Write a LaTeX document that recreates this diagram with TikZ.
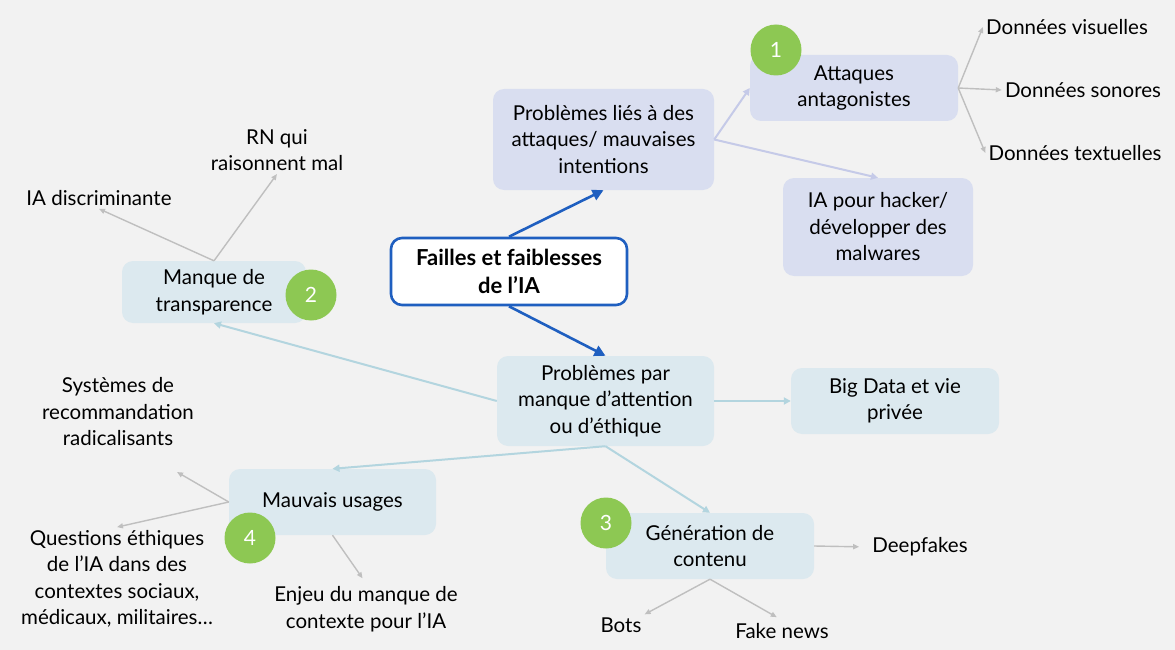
\documentclass[tikz,border=0pt]{standalone}
\usepackage{fontspec}
\setmainfont{Lato}
\usetikzlibrary{arrows.meta}
\definecolor{bg}{HTML}{F2F2F2}
\definecolor{lav}{HTML}{D9DEF0}
\definecolor{lblue}{HTML}{DCE9EF}
\definecolor{lavline}{HTML}{C5CAE8}
\definecolor{bline}{HTML}{B3D5DF}
\definecolor{gline}{HTML}{BFBFBF}
\definecolor{dblue}{HTML}{1F5FC0}
\definecolor{green}{HTML}{8DC853}
\tikzset{
  every node/.style={font=\fontsize{20.5}{26.5}\selectfont, align=center, text=black},
  lavbox/.style={fill=lav, rounded corners=11, inner sep=0},
  bluebox/.style={fill=lblue, rounded corners=11, inner sep=0},
  mainbox/.style={draw=dblue, line width=2.6, fill=white, rounded corners=11, inner sep=0, font=\fontsize{22}{28}\selectfont\bfseries},
  num/.style={circle, fill=green, minimum size=51, inner sep=0, text=white, font=\fontsize{21}{24}\selectfont},
  leaf/.style={inner sep=3},
  bigarrow/.style={draw=dblue, line width=2.6, -{Triangle[length=11,width=11]}},
  lavarrow/.style={draw=lavline, line width=2, -{Triangle[length=7,width=7]}},
  bluearrow/.style={draw=bline, line width=2, -{Triangle[length=7,width=7]}},
  grayarrow/.style={draw=gline, line width=1.4, -{Triangle[length=6,width=5]}}
}
\begin{document}
\begin{tikzpicture}[x=1pt,y=-1pt]
\fill[bg] (0,0) rectangle (1175,650);
\useasboundingbox (0,0) rectangle (1175,650);

% boxes
\node[mainbox, minimum width=236, minimum height=67] (c) at (509,271.5) {Failles et faiblesses\\de l’IA};
\node[lavbox, minimum width=221, minimum height=101] (pl) at (603.5,139.5) {Problèmes liés à des\\attaques/ mauvaises\\intentions};
\node[lavbox, minimum width=208, minimum height=66] (att) at (854,88) {Attaques\\antagonistes};
\node[lavbox, minimum width=190, minimum height=98] (hk) at (878,227) {IA pour hacker/\\développer des\\malwares};
\node[bluebox, minimum width=184, minimum height=62] (mt) at (214,292) {Manque de\\transparence};
\node[bluebox, minimum width=217, minimum height=90] (pp) at (605.5,401) {Problèmes par\\manque d’attention\\ou d’éthique};
\node[bluebox, minimum width=208, minimum height=66] (bd) at (895,401) {Big Data et vie\\privée};
\node[bluebox, minimum width=207, minimum height=66] (mu) at (332.5,502) {Mauvais usages};
\node[bluebox, minimum width=208, minimum height=66] (gen) at (710,546) {Génération de\\contenu};

% numbers
\node[num] (n1) at (776,50) {1};
\node[num] (n2) at (311,295) {2};
\node[num] (n3) at (606,523) {3};
\node[num] (n4) at (250,538) {4};

% leaves
\node[leaf] (dv) at (1067,27) {Données visuelles};
\node[leaf] (ds) at (1083,90) {Données sonores};
\node[leaf] (dt) at (1075,153) {Données textuelles};
\node[leaf] (rn) at (277,150) {RN qui\\raisonnent mal};
\node[leaf] (id) at (99,198) {IA discriminante};
\node[leaf] (sys) at (118,412) {Systèmes de\\recommandation\\radicalisants};
\node[leaf] (q) at (117,579) {Questions éthiques\\de l’IA dans des\\contextes sociaux,\\médicaux, militaires…};
\node[leaf] (enj) at (366,609) {Enjeu du manque de\\contexte pour l’IA};
\node[leaf] (df) at (920,547) {Deepfakes};
\node[leaf] (bots) at (621,625) {Bots};
\node[leaf] (fn) at (782,631) {Fake news};
\coordinate (sysend) at (177,472);

% connectors
\draw[bigarrow] (c.north) -- (pl.south);
\draw[bigarrow] (c.south) -- (pp.north);
\draw[lavarrow] (pl.east) -- (att.west);
\draw[lavarrow] (pl.east) -- (hk.north);
\draw[grayarrow] (att.east) -- (dv.west);
\draw[grayarrow] (att.east) -- (ds.west);
\draw[grayarrow] (att.east) -- (dt.west);
\draw[bluearrow] (pp.west) -- (mt.south);
\draw[bluearrow] (pp.south) -- (mu.north);
\draw[bluearrow] (pp.south) -- (gen.north);
\draw[bluearrow] (pp.east) -- (bd.west);
\draw[grayarrow] (mt.north) -- (id.south);
\draw[grayarrow] (mt.north) -- (rn.south);
\draw[grayarrow] (mu.west) -- (sysend);
\draw[grayarrow] (mu.west) -- (q.north);
\draw[grayarrow, shorten >=6] (mu.south) -- (enj.north);
\draw[grayarrow, shorten >=10] (gen.east) -- (df.west);
\draw[grayarrow] (gen.south) -- (bots.north east);
\draw[grayarrow, shorten >=6] (gen.south) -- (fn.north);
\end{tikzpicture}
\end{document}
